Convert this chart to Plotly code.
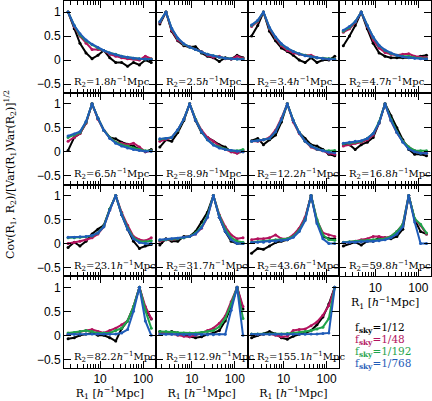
import plotly.graph_objects as go
from plotly.subplots import make_subplots

# R1 sampling points (h^-1 Mpc)
R1 = [1.8, 2.5, 3.4, 4.7, 6.5, 8.9, 12.2, 16.8, 23.1, 31.7, 43.6, 59.8, 82.2, 112.9, 155.1]
# Panel labels (R2 values)
R2_labels = ["1.8", "2.5", "3.4", "4.7", "6.5", "8.9", "12.2", "16.8",
             "23.1", "31.7", "43.6", "59.8", "82.2", "112.9", "155.1"]

# Normalised covariance, one row per panel (R2), one value per R1
cov_f12 = [
    [1, 0.65, 0.35, 0.15, 0.03, 0.10, 0.20, 0.05, -0.05, -0.05, -0.13, -0.05, -0.10, 0.00, -0.05],
    [0.75, 1, 0.60, 0.40, 0.30, 0.27, 0.28, 0.15, 0.08, 0.05, -0.03, 0.05, 0.02, 0.10, 0.05],
    [0.50, 0.72, 1, 0.60, 0.40, 0.25, 0.18, 0.10, 0.00, -0.05, 0.05, -0.05, 0.00, 0.00, 0.08],
    [0.30, 0.50, 0.72, 1, 0.65, 0.35, 0.15, 0.08, 0.05, 0.05, 0.05, 0.06, 0.05, 0.08, 0.10],
    [0.03, 0.30, 0.38, 0.60, 1, 0.70, 0.45, 0.30, 0.27, 0.20, 0.16, 0.12, 0.05, 0.00, 0.05],
    [0.10, 0.25, 0.22, 0.40, 0.65, 1, 0.65, 0.40, 0.30, 0.22, 0.15, 0.10, 0.00, -0.02, 0.00],
    [0.23, 0.28, 0.15, 0.25, 0.35, 0.62, 1, 0.65, 0.40, 0.28, 0.15, 0.12, 0.05, -0.05, -0.08],
    [0.15, 0.15, 0.05, 0.15, 0.20, 0.30, 0.60, 1, 0.75, 0.50, 0.25, 0.05, -0.05, -0.05, -0.08],
    [-0.08, 0.03, -0.05, 0.05, 0.20, 0.30, 0.38, 0.72, 1, 0.60, 0.30, 0.05, -0.10, -0.05, -0.02],
    [-0.03, 0.10, 0.05, 0.05, 0.15, 0.15, 0.25, 0.45, 0.65, 1, 0.55, 0.25, 0.05, 0.00, 0.00],
    [-0.20, -0.10, -0.12, -0.05, 0.02, 0.05, 0.08, 0.15, 0.30, 0.52, 1, 0.45, 0.15, 0.10, 0.10],
    [-0.05, 0.00, 0.03, -0.03, 0.05, 0.05, 0.12, 0.12, 0.10, 0.15, 0.30, 1, 0.50, 0.25, 0.20],
    [-0.07, -0.05, 0.00, 0.03, 0.05, 0.00, 0.00, -0.05, -0.12, 0.14, 0.30, 0.58, 1, 0.55, 0.34],
    [0.08, 0.05, 0.08, 0.05, 0.00, -0.03, -0.05, -0.03, 0.02, 0.05, 0.10, 0.30, 0.60, 1, 0.55],
    [-0.05, 0.00, 0.03, 0.08, 0.03, -0.05, -0.08, -0.02, 0.02, 0.05, 0.10, 0.22, 0.38, 0.65, 1],
]
cov_f48 = [
    [1, 0.70, 0.50, 0.35, 0.22, 0.22, 0.20, 0.12, 0.08, 0.05, 0.03, 0.02, 0.00, 0.08, 0.03],
    [0.78, 1, 0.62, 0.42, 0.32, 0.28, 0.22, 0.18, 0.10, 0.06, 0.08, 0.03, 0.02, 0.08, 0.04],
    [0.70, 0.80, 1, 0.65, 0.45, 0.30, 0.20, 0.15, 0.12, 0.10, 0.10, 0.05, 0.04, 0.02, 0.02],
    [0.58, 0.65, 0.78, 1, 0.70, 0.42, 0.25, 0.16, 0.12, 0.10, 0.12, 0.13, 0.08, 0.06, 0.05],
    [0.22, 0.30, 0.38, 0.60, 1, 0.68, 0.45, 0.30, 0.20, 0.18, 0.15, 0.18, 0.10, 0.00, 0.02],
    [0.22, 0.26, 0.30, 0.45, 0.68, 1, 0.68, 0.45, 0.30, 0.22, 0.12, 0.05, 0.00, -0.03, 0.03],
    [0.22, 0.22, 0.25, 0.30, 0.45, 0.70, 1, 0.62, 0.38, 0.22, 0.10, 0.05, 0.02, -0.03, -0.05],
    [0.12, 0.15, 0.18, 0.20, 0.25, 0.35, 0.60, 1, 0.65, 0.40, 0.22, 0.10, 0.02, -0.02, -0.03],
    [0.00, 0.02, 0.05, 0.08, 0.12, 0.20, 0.35, 0.70, 1, 0.65, 0.38, 0.15, 0.08, 0.06, 0.12],
    [0.05, 0.08, 0.08, 0.10, 0.12, 0.15, 0.20, 0.32, 0.55, 1, 0.60, 0.35, 0.18, 0.10, 0.12],
    [0.08, 0.10, 0.10, 0.12, 0.18, 0.10, 0.10, 0.18, 0.32, 0.55, 1, 0.48, 0.22, 0.18, 0.15],
    [0.02, 0.03, 0.05, 0.08, 0.10, 0.15, 0.15, 0.12, 0.15, 0.25, 0.40, 1, 0.50, 0.38, 0.20],
    [0.02, 0.05, 0.08, 0.10, 0.12, 0.08, 0.05, 0.10, 0.15, 0.22, 0.30, 0.60, 1, 0.60, 0.35],
    [0.05, 0.05, 0.03, 0.00, -0.02, -0.03, 0.00, 0.05, 0.10, 0.15, 0.25, 0.40, 0.70, 1, 0.60],
    [0.02, 0.02, 0.02, 0.03, 0.00, -0.03, -0.02, 0.10, 0.12, 0.13, 0.20, 0.28, 0.42, 0.62, 1],
]
cov_f192 = [
    [1, 0.72, 0.52, 0.40, 0.32, 0.25, 0.20, 0.15, 0.12, 0.08, 0.06, 0.04, 0.03, 0.02, 0.02],
    [0.80, 1, 0.65, 0.45, 0.33, 0.27, 0.22, 0.17, 0.12, 0.09, 0.06, 0.04, 0.03, 0.02, 0.02],
    [0.72, 0.82, 1, 0.67, 0.47, 0.33, 0.24, 0.18, 0.13, 0.10, 0.07, 0.05, 0.04, 0.03, 0.02],
    [0.60, 0.68, 0.80, 1, 0.72, 0.47, 0.30, 0.20, 0.14, 0.10, 0.08, 0.08, 0.05, 0.04, 0.03],
    [0.30, 0.35, 0.40, 0.62, 1, 0.70, 0.45, 0.30, 0.20, 0.15, 0.12, 0.08, 0.05, 0.02, 0.02],
    [0.26, 0.28, 0.30, 0.45, 0.68, 1, 0.68, 0.42, 0.25, 0.15, 0.10, 0.06, 0.03, 0.02, 0.05],
    [0.22, 0.23, 0.25, 0.28, 0.42, 0.67, 1, 0.65, 0.40, 0.22, 0.12, 0.06, 0.03, 0.02, 0.03],
    [0.17, 0.18, 0.20, 0.22, 0.28, 0.38, 0.62, 1, 0.68, 0.42, 0.22, 0.10, 0.03, 0.02, 0.02],
    [0.12, 0.12, 0.13, 0.14, 0.16, 0.22, 0.36, 0.72, 1, 0.62, 0.33, 0.12, 0.05, 0.04, 0.06],
    [0.07, 0.08, 0.09, 0.10, 0.12, 0.15, 0.22, 0.35, 0.58, 1, 0.58, 0.30, 0.12, 0.05, 0.03],
    [0.03, 0.04, 0.05, 0.06, 0.08, 0.08, 0.10, 0.15, 0.28, 0.50, 1, 0.50, 0.18, 0.08, 0.07],
    [0.03, 0.04, 0.05, 0.06, 0.07, 0.08, 0.08, 0.10, 0.15, 0.25, 0.40, 1, 0.52, 0.40, 0.22],
    [0.05, 0.06, 0.08, 0.10, 0.08, 0.05, 0.05, 0.05, 0.10, 0.15, 0.30, 0.60, 1, 0.52, 0.15],
    [0.08, 0.08, 0.07, 0.06, 0.05, 0.05, 0.05, 0.06, 0.08, 0.10, 0.18, 0.35, 0.65, 1, 0.35],
    [0.03, 0.03, 0.03, 0.03, 0.03, 0.03, 0.04, 0.05, 0.06, 0.08, 0.10, 0.13, 0.17, 0.35, 1],
]
cov_f768 = [
    [1, 0.72, 0.55, 0.42, 0.33, 0.26, 0.20, 0.15, 0.11, 0.08, 0.06, 0.04, 0.03, 0.02, 0.01],
    [0.80, 1, 0.66, 0.46, 0.34, 0.27, 0.22, 0.17, 0.12, 0.09, 0.06, 0.04, 0.03, 0.02, 0.01],
    [0.73, 0.83, 1, 0.68, 0.48, 0.34, 0.25, 0.18, 0.13, 0.09, 0.07, 0.05, 0.03, 0.02, 0.01],
    [0.62, 0.70, 0.80, 1, 0.72, 0.48, 0.31, 0.21, 0.15, 0.10, 0.07, 0.05, 0.04, 0.03, 0.02],
    [0.33, 0.37, 0.42, 0.63, 1, 0.70, 0.45, 0.28, 0.18, 0.12, 0.08, 0.05, 0.03, 0.01, 0.01],
    [0.27, 0.28, 0.30, 0.46, 0.68, 1, 0.66, 0.42, 0.25, 0.14, 0.08, 0.05, 0.03, 0.01, 0.00],
    [0.22, 0.23, 0.25, 0.28, 0.42, 0.67, 1, 0.65, 0.40, 0.22, 0.12, 0.06, 0.02, -0.01, -0.02],
    [0.18, 0.20, 0.22, 0.23, 0.28, 0.38, 0.60, 1, 0.65, 0.40, 0.20, 0.06, 0.00, -0.03, -0.03],
    [0.13, 0.13, 0.14, 0.15, 0.17, 0.22, 0.35, 0.70, 1, 0.60, 0.30, 0.10, 0.02, 0.00, 0.00],
    [0.08, 0.09, 0.10, 0.11, 0.13, 0.15, 0.20, 0.33, 0.55, 1, 0.55, 0.25, 0.08, 0.00, 0.00],
    [0.02, 0.03, 0.03, 0.04, 0.05, 0.06, 0.08, 0.13, 0.25, 0.48, 1, 0.42, 0.10, 0.00, 0.00],
    [0.02, 0.03, 0.03, 0.04, 0.05, 0.05, 0.06, 0.08, 0.12, 0.20, 0.35, 1, 0.45, 0.00, 0.00],
    [0.02, 0.02, 0.03, 0.03, 0.03, 0.03, 0.03, 0.02, 0.03, 0.05, 0.12, 0.50, 1, 0.30, 0.00],
    [0.02, 0.02, 0.02, 0.01, 0.01, 0.01, 0.01, 0.01, 0.01, 0.01, 0.02, 0.02, 0.52, 1, 0.00],
    [0.02, 0.02, 0.02, 0.02, 0.02, 0.02, 0.02, 0.02, 0.02, 0.02, 0.03, 0.03, 0.04, 0.05, 1],
]

series = [cov_f12, cov_f48, cov_f192, cov_f768]
series_labels = ["1/12", "1/48", "1/192", "1/768"]
colors = ["#000000", "#b3135e", "#1fa34a", "#1f5cb8"]

x_major = [10, 100]
x_minor = [2, 3, 4, 5, 6, 7, 8, 9, 20, 30, 40, 50, 60, 70, 80, 90, 200]
y_ticks = [-0.5, 0, 0.5, 1]

SERIF = "DejaVu Serif"
SANS = "Liberation Sans"

fig = make_subplots(rows=4, cols=4, horizontal_spacing=0, vertical_spacing=0)

for k in range(15):
    r, c = k // 4 + 1, k % 4 + 1
    for s, col in zip(series, colors):
        fig.add_trace(go.Scatter(x=R1, y=s[k], mode="lines+markers",
                                 line=dict(color=col, width=2),
                                 marker=dict(color=col, size=3),
                                 showlegend=False, hoverinfo="skip"),
                      row=r, col=c)

axis_title = "R<sub>1</sub> [<i>h</i><sup>−1</sup>Mpc]"
for n in range(1, 17):
    r, c = (n - 1) // 4 + 1, (n - 1) % 4 + 1
    xa = "xaxis" if n == 1 else f"xaxis{n}"
    ya = "yaxis" if n == 1 else f"yaxis{n}"
    if n == 16:
        fig.layout[xa].update(visible=False)
        fig.layout[ya].update(visible=False)
        continue
    bottom = (r == 4) or (r == 3 and c == 4)
    fig.layout[xa].update(
        type="log", range=[0.16, 2.295], tickvals=x_major, ticktext=["10", "100"],
        ticks="inside", ticklen=7, tickwidth=1, tickcolor="black",
        minor=dict(tickvals=x_minor, ticks="inside", ticklen=4, tickwidth=1, tickcolor="black", showgrid=False),
        mirror="allticks", showline=True, linecolor="black", linewidth=1,
        showgrid=False, zeroline=False, showticklabels=bottom,
        tickfont=dict(family=SANS, size=12, color="black"),
        title=dict(text=axis_title if bottom else "", font=dict(family=SERIF, size=11, color="black"), standoff=2),
    )
    fig.layout[ya].update(
        range=[-0.68, 1.23], tickvals=y_ticks,
        ticks="inside", ticklen=7, tickwidth=1, tickcolor="black",
        mirror="allticks", showline=True, linecolor="black", linewidth=1,
        showgrid=False, zeroline=False, showticklabels=(c == 1),
        tickfont=dict(family=SANS, size=12, color="black"),
    )

annotations = []
for k in range(15):
    n = k + 1
    xs = "x" if n == 1 else f"x{n}"
    ys = "y" if n == 1 else f"y{n}"
    annotations.append(dict(
        text=f"R<sub>2</sub>={R2_labels[k]}<i>h</i><sup>−1</sup>Mpc",
        xref=f"{xs} domain", yref=ys, x=0.085, y=-0.46,
        xanchor="left", yanchor="middle", showarrow=False,
        font=dict(family=SERIF, size=10, color="black")))

leg_y = [0.108, 0.076, 0.044, 0.012]
for lab, col, yy in zip(series_labels, colors, leg_y):
    annotations.append(dict(
        text=f"f<sub><b>sky</b></sub>={lab}", xref="paper", yref="paper",
        x=0.787, y=yy, xanchor="left", yanchor="middle", showarrow=False,
        font=dict(family=SERIF, size=10.5, color=col)))

annotations.append(dict(
    text="Cov(R<sub>1</sub>, R<sub>2</sub>)/[Var(R<sub>1</sub>)Var(R<sub>2</sub>)]<sup>1/2</sup>",
    xref="paper", yref="paper", x=-0.147, y=0.526, textangle=-90,
    xanchor="center", yanchor="middle", showarrow=False,
    font=dict(family=SERIF, size=11, color="black")))

fig.update_layout(
    width=432, height=401,
    margin=dict(l=64, r=1, t=1, b=33, autoexpand=False),
    paper_bgcolor="white", plot_bgcolor="white",
    annotations=annotations, showlegend=False,
)

fig.write_html("out.html", config={"displayModeBar": False},
               post_script="document.body.style.margin='0';document.body.style.padding='0';")
